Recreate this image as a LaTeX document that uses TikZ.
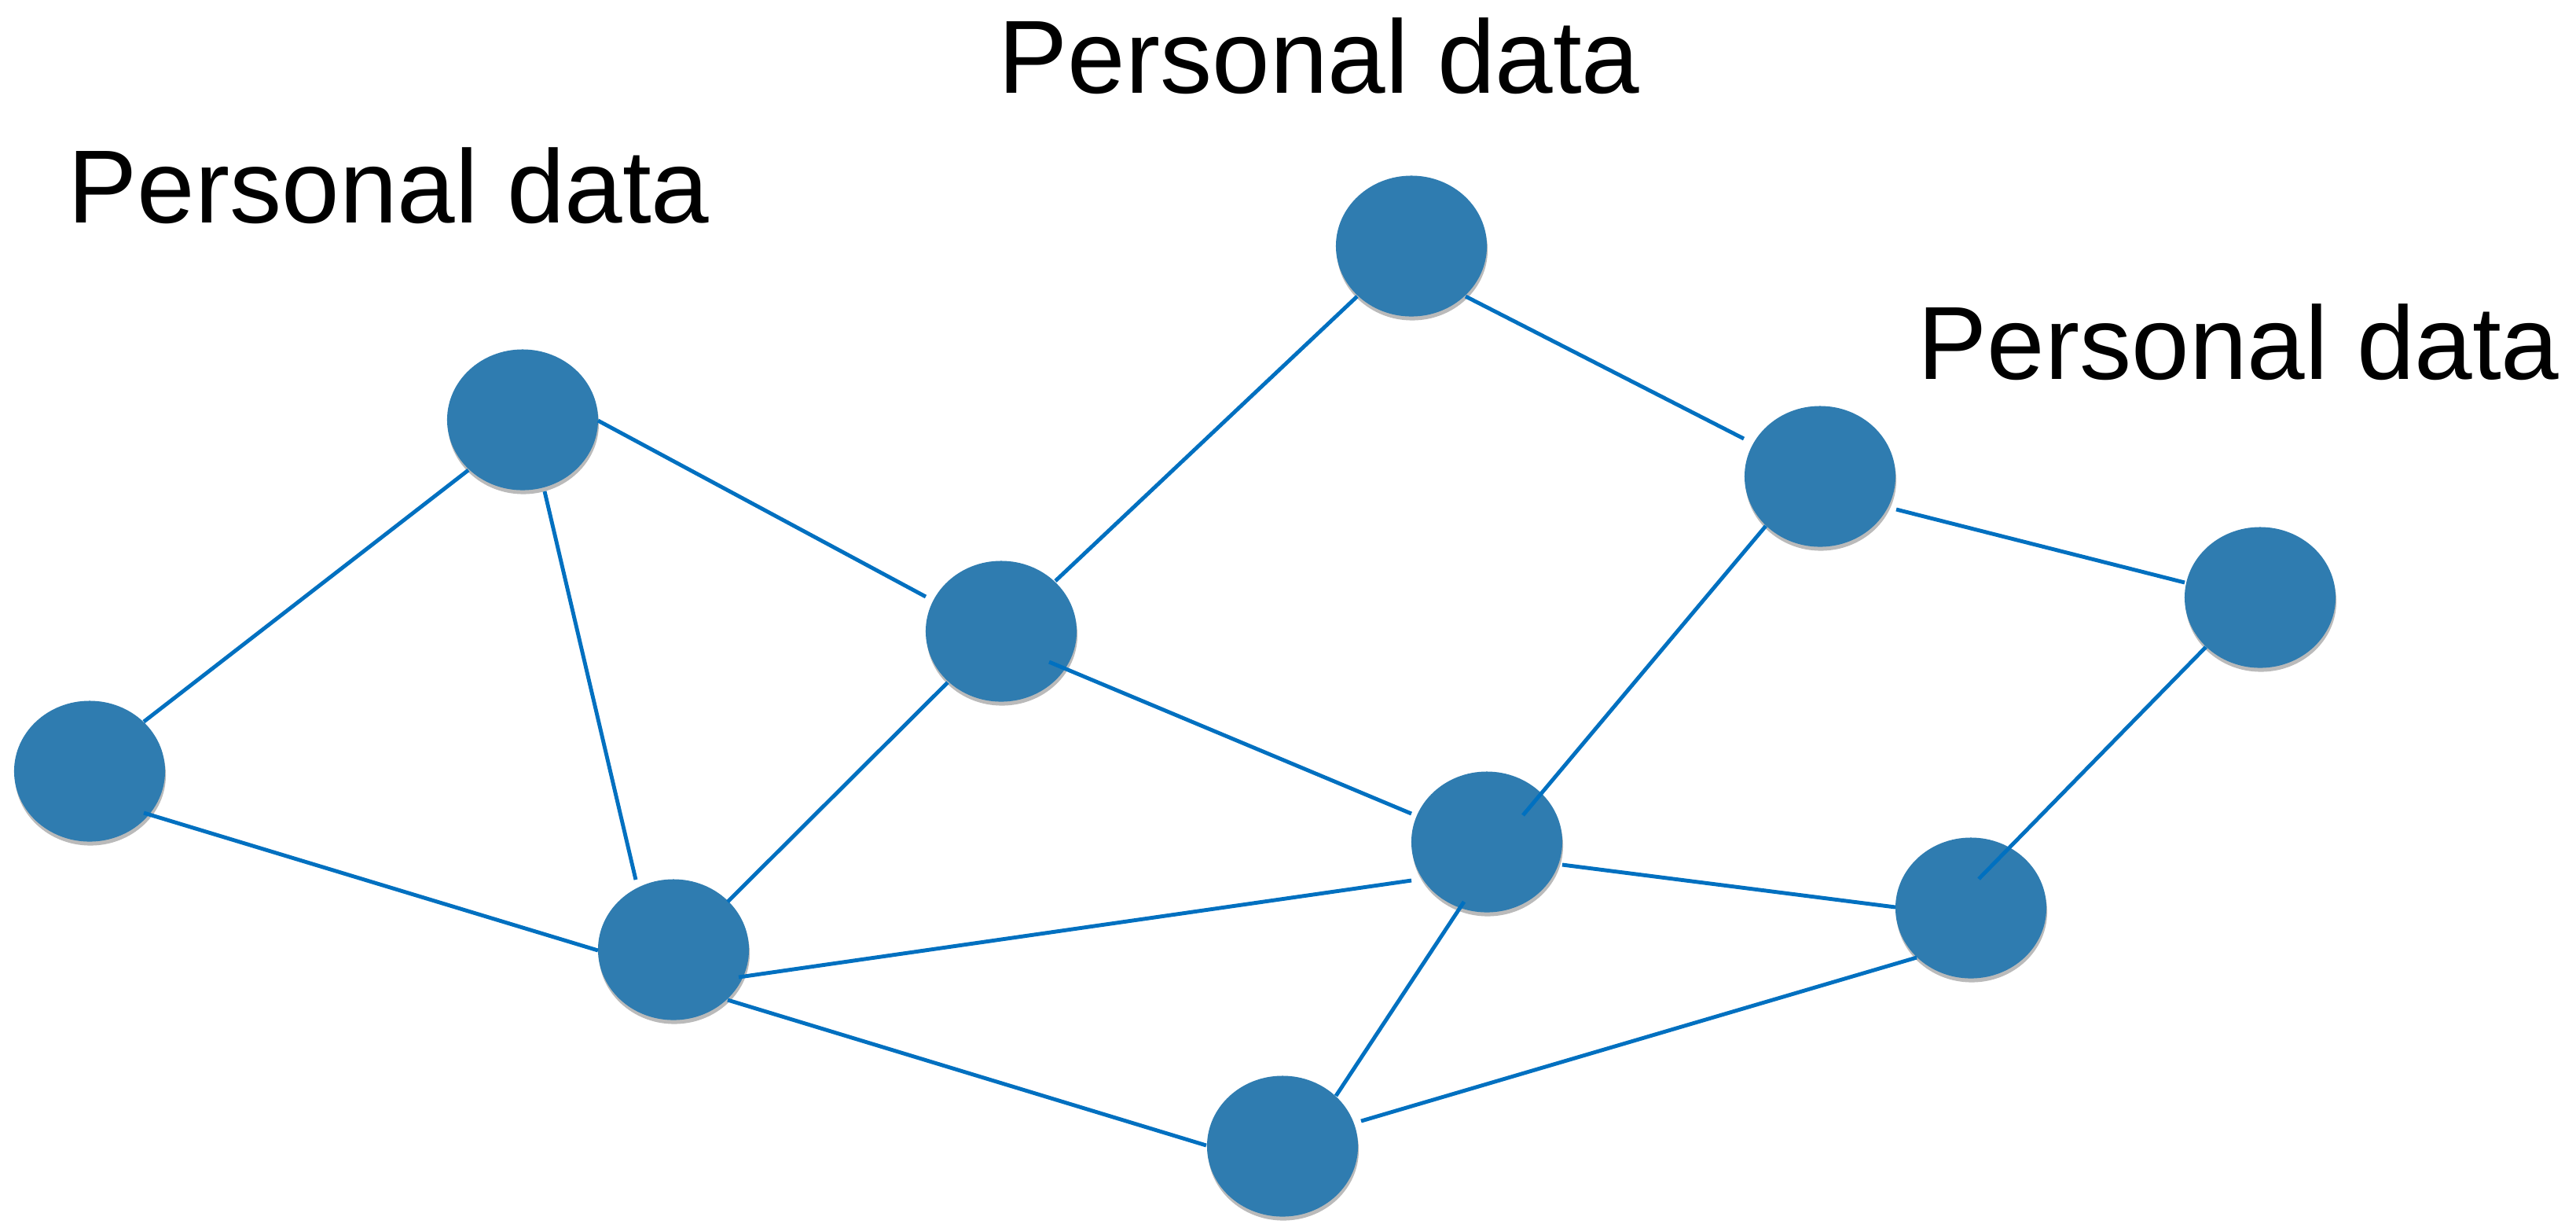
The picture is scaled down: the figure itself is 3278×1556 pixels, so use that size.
\documentclass[tikz,border=0pt]{standalone}
\usepackage{fontspec}
\setmainfont{Liberation Sans}
\usetikzlibrary{shapes.geometric,shadows}
\definecolor{nodeblue}{RGB}{47,124,176}
\definecolor{lineblue}{RGB}{0,112,192}
\tikzset{
  peer/.style={ellipse, fill=nodeblue, draw=none, inner sep=0pt,
    minimum width=1.92cm, minimum height=1.79cm,
    drop shadow={shadow xshift=0.01cm, shadow yshift=-0.05cm, fill=black!60, opacity=0.45}},
  link/.style={draw=lineblue, line width=1.4pt},
  lbl/.style={anchor=base west, inner sep=0pt, font=\fontsize{37.6}{45}\selectfont}
}
\begin{document}
\begin{tikzpicture}[x=0.01cm, y=-0.01cm]
\useasboundingbox[fill=white] (0,0) rectangle (3278,1556);
% labels
\node[lbl] (t1) at (86,283) {Personal data};
\node[lbl] (t2) at (1270,118) {Personal data};
\node[lbl] (t3) at (2440,482) {Personal data};
% nodes
\node[peer] (n1) at (114,981) {};
\node[peer] (n2) at (665,534) {};
\node[peer] (n3) at (857,1208) {};
\node[peer] (n4) at (1274,803) {};
\node[peer] (n5) at (1796,313) {};
\node[peer] (n6) at (2316,606) {};
\node[peer] (n7) at (2876,760) {};
\node[peer] (n8) at (1892,1071) {};
\node[peer] (n9) at (2508,1155) {};
\node[peer] (n10) at (1632,1458) {};
% links
\draw[link] ([shift={(69,-63)}]n1.center) -- ([shift={(-69,64)}]n2.center);
\draw[link] ([shift={(69,53)}]n1.center) -- ([shift={(-96,1)}]n3.center);
\draw[link] ([shift={(28,91)}]n2.center) -- ([shift={(-48,-89)}]n3.center);
\draw[link] ([shift={(96,1)}]n2.center) -- ([shift={(-96,-44)}]n4.center);
\draw[link] ([shift={(69,-61)}]n3.center) -- ([shift={(-68,65)}]n4.center);
\draw[link] ([shift={(83,35)}]n3.center) -- ([shift={(-96,49)}]n8.center);
\draw[link] ([shift={(69,64)}]n3.center) -- ([shift={(-97,-1)}]n10.center);
\draw[link] ([shift={(69,-64)}]n4.center) -- ([shift={(-69,64)}]n5.center);
\draw[link] ([shift={(61,39)}]n4.center) -- ([shift={(-96,-36)}]n8.center);
\draw[link] ([shift={(69,64)}]n5.center) -- ([shift={(-97,-48)}]n6.center);
\draw[link] ([shift={(97,42)}]n6.center) -- ([shift={(-96,-19)}]n7.center);
\draw[link] ([shift={(-69,63)}]n6.center) -- ([shift={(46,-34)}]n8.center);
\draw[link] ([shift={(-69,63)}]n7.center) -- ([shift={(10,-37)}]n9.center);
\draw[link] ([shift={(96,29)}]n8.center) -- ([shift={(-96,-1)}]n9.center);
\draw[link] ([shift={(-29,76)}]n8.center) -- ([shift={(68,-64)}]n10.center);
\draw[link] ([shift={(-69,63)}]n9.center) -- ([shift={(100,-32)}]n10.center);
\end{tikzpicture}
\end{document}
